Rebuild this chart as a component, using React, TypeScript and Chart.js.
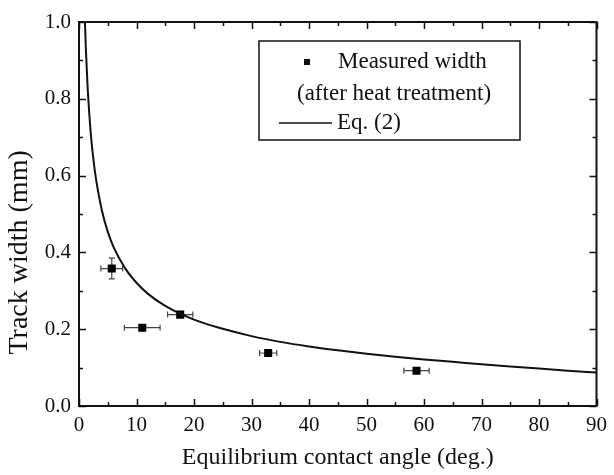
import React, { useEffect, useRef } from "react";
import { Chart, registerables } from "chart.js";
Chart.register(...registerables);

// Measured track widths (after heat treatment)
const angles = [5.7, 11.0, 17.6, 32.9, 58.7];
const widths = [0.358, 0.204, 0.238, 0.138, 0.092];
const angleErr = [1.9, 3.1, 2.2, 1.5, 2.2];
const widthErr = [0.027, 0.008, 0.006, 0.006, 0.006];

// Eq. (2) curve
const curveAngles = [1, 1.2, 1.5, 2, 2.5, 3, 4, 5, 6, 8, 10, 12, 15, 20, 25, 30, 35, 40, 45, 50, 55, 60, 65, 70, 75, 80, 85, 90];
const curveWidths = [1.016, 0.927, 0.83, 0.718, 0.643, 0.587, 0.508, 0.454, 0.4145, 0.359, 0.321, 0.292, 0.261, 0.225, 0.201, 0.182, 0.167, 0.155, 0.145, 0.136, 0.128, 0.121, 0.115, 0.1085, 0.103, 0.0975, 0.092, 0.087];

const xMajor = [0, 10, 20, 30, 40, 50, 60, 70, 80, 90];
const xMinor = [5, 15, 25, 35, 45, 55, 65, 75, 85];
const yMajor = [0, 0.2, 0.4, 0.6, 0.8, 1.0];
const yMinor = [0.1, 0.3, 0.5, 0.7, 0.9];

const yTitle = "Track width (mm)";

const FONT = "'Liberation Serif', 'Times New Roman', serif";
const INK = "#111";

const errorBarPlugin = {
  id: "errorBars",
  beforeDatasetsDraw(chart: any) {
    const { ctx, scales } = chart;
    const xs = scales.x, ys = scales.y;
    ctx.save();
    ctx.strokeStyle = "#444";
    ctx.lineWidth = 1.2;
    const cap = 3;
    angles.forEach((a, i) => {
      const px = xs.getPixelForValue(a);
      const py = ys.getPixelForValue(widths[i]);
      const x1 = xs.getPixelForValue(a - angleErr[i]);
      const x2 = xs.getPixelForValue(a + angleErr[i]);
      const y1 = ys.getPixelForValue(widths[i] - widthErr[i]);
      const y2 = ys.getPixelForValue(widths[i] + widthErr[i]);
      ctx.beginPath();
      ctx.moveTo(x1, py); ctx.lineTo(x2, py);
      ctx.moveTo(x1, py - cap); ctx.lineTo(x1, py + cap);
      ctx.moveTo(x2, py - cap); ctx.lineTo(x2, py + cap);
      ctx.moveTo(px, y1); ctx.lineTo(px, y2);
      ctx.moveTo(px - cap, y1); ctx.lineTo(px + cap, y1);
      ctx.moveTo(px - cap, y2); ctx.lineTo(px + cap, y2);
      ctx.stroke();
    });
    ctx.restore();
  },
};

const framePlugin = {
  id: "frame",
  afterDraw(chart: any) {
    const { ctx, chartArea, scales } = chart;
    const { left, right, top, bottom } = chartArea;
    const xs = scales.x, ys = scales.y;
    ctx.save();
    ctx.strokeStyle = INK;
    ctx.lineWidth = 2;
    ctx.strokeRect(left, top, right - left, bottom - top);
    ctx.lineWidth = 1.5;
    ctx.beginPath();
    const tick = (vals: number[], len: number) => {
      vals.forEach((v) => {
        const px = Math.round(xs.getPixelForValue(v)) + 0.5;
        ctx.moveTo(px, bottom); ctx.lineTo(px, bottom - len);
        ctx.moveTo(px, top); ctx.lineTo(px, top + len);
      });
    };
    const tickY = (vals: number[], len: number) => {
      vals.forEach((v) => {
        const py = Math.round(ys.getPixelForValue(v)) + 0.5;
        ctx.moveTo(left, py); ctx.lineTo(left + len, py);
        ctx.moveTo(right, py); ctx.lineTo(right - len, py);
      });
    };
    tick(xMajor, 7); tick(xMinor, 4);
    tickY(yMajor, 7); tickY(yMinor, 4);
    ctx.stroke();

    // y axis title
    ctx.save();
    ctx.translate(20, ys.getPixelForValue(0.4));
    ctx.rotate(-Math.PI / 2);
    ctx.font = "28px " + FONT;
    ctx.fillStyle = INK;
    ctx.textAlign = "center";
    ctx.textBaseline = "middle";
    ctx.fillText(yTitle, 0, 0);
    ctx.restore();

    // legend
    const lx = left + 180, ly = top + 19, lw = 261, lh = 99;
    ctx.lineWidth = 1.5;
    ctx.strokeRect(lx, ly, lw, lh);
    ctx.fillStyle = INK;
    ctx.fillRect(lx + 45, ly + 18, 6, 6);
    ctx.font = "23px " + FONT;
    ctx.textBaseline = "middle";
    ctx.textAlign = "left";
    ctx.fillText("Measured width", lx + 79, ly + 21);
    ctx.fillText("(after heat treatment)", lx + 38, ly + 53);
    ctx.beginPath();
    ctx.moveTo(lx + 20, ly + 82); ctx.lineTo(lx + 73, ly + 82);
    ctx.stroke();
    ctx.fillText("Eq. (2)", lx + 78, ly + 82);
    ctx.restore();
  },
};

export default function App() {
  const ref = useRef<HTMLCanvasElement>(null);
  useEffect(() => {
    document.body.style.margin = "0";
    const chart = new Chart(ref.current!, {
      type: "scatter",
      data: {
        datasets: [
          {
            type: "line",
            label: "Eq. (2)",
            data: curveAngles.map((a, i) => ({ x: a, y: curveWidths[i] })),
            borderColor: INK,
            borderWidth: 2,
            pointRadius: 0,
            cubicInterpolationMode: "monotone",
            fill: false,
          },
          {
            label: "Measured width (after heat treatment)",
            data: angles.map((a, i) => ({ x: a, y: widths[i] })),
            backgroundColor: "#000",
            borderColor: "#000",
            pointStyle: "rect",
            pointRadius: 5.7,
            borderWidth: 0,
          },
        ],
      } as any,
      options: {
        animation: false,
        responsive: false,
        devicePixelRatio: 1,
        layout: { padding: { top: 22, right: 14, left: 0, bottom: 0 } },
        plugins: { legend: { display: false }, tooltip: { enabled: false } },
        scales: {
          x: {
            type: "linear",
            min: 0,
            max: 90,
            grid: { display: false, drawTicks: false },
            border: { display: false },
            ticks: { stepSize: 10, padding: 7, color: INK, font: { family: FONT, size: 21 }, maxRotation: 0 },
            title: { display: true, text: "Equilibrium contact angle (deg.)", color: INK, font: { family: FONT, size: 24 }, padding: { top: 0, bottom: 3 } },
            afterFit: (s: any) => { s.height = 69; },
          },
          y: {
            type: "linear",
            min: 0,
            max: 1.0,
            grid: { display: false, drawTicks: false },
            border: { display: false },
            ticks: { stepSize: 0.2, padding: 8, color: INK, font: { family: FONT, size: 21 }, callback: (v: any) => Number(v).toFixed(1) },
            title: { display: false },
            afterFit: (s: any) => { s.width = 79; },
          },
        },
      } as any,
      plugins: [errorBarPlugin, framePlugin],
    });
    return () => chart.destroy();
  }, []);
  return <canvas ref={ref} width={614} height={475} style={{ display: "block" }} />;
}
